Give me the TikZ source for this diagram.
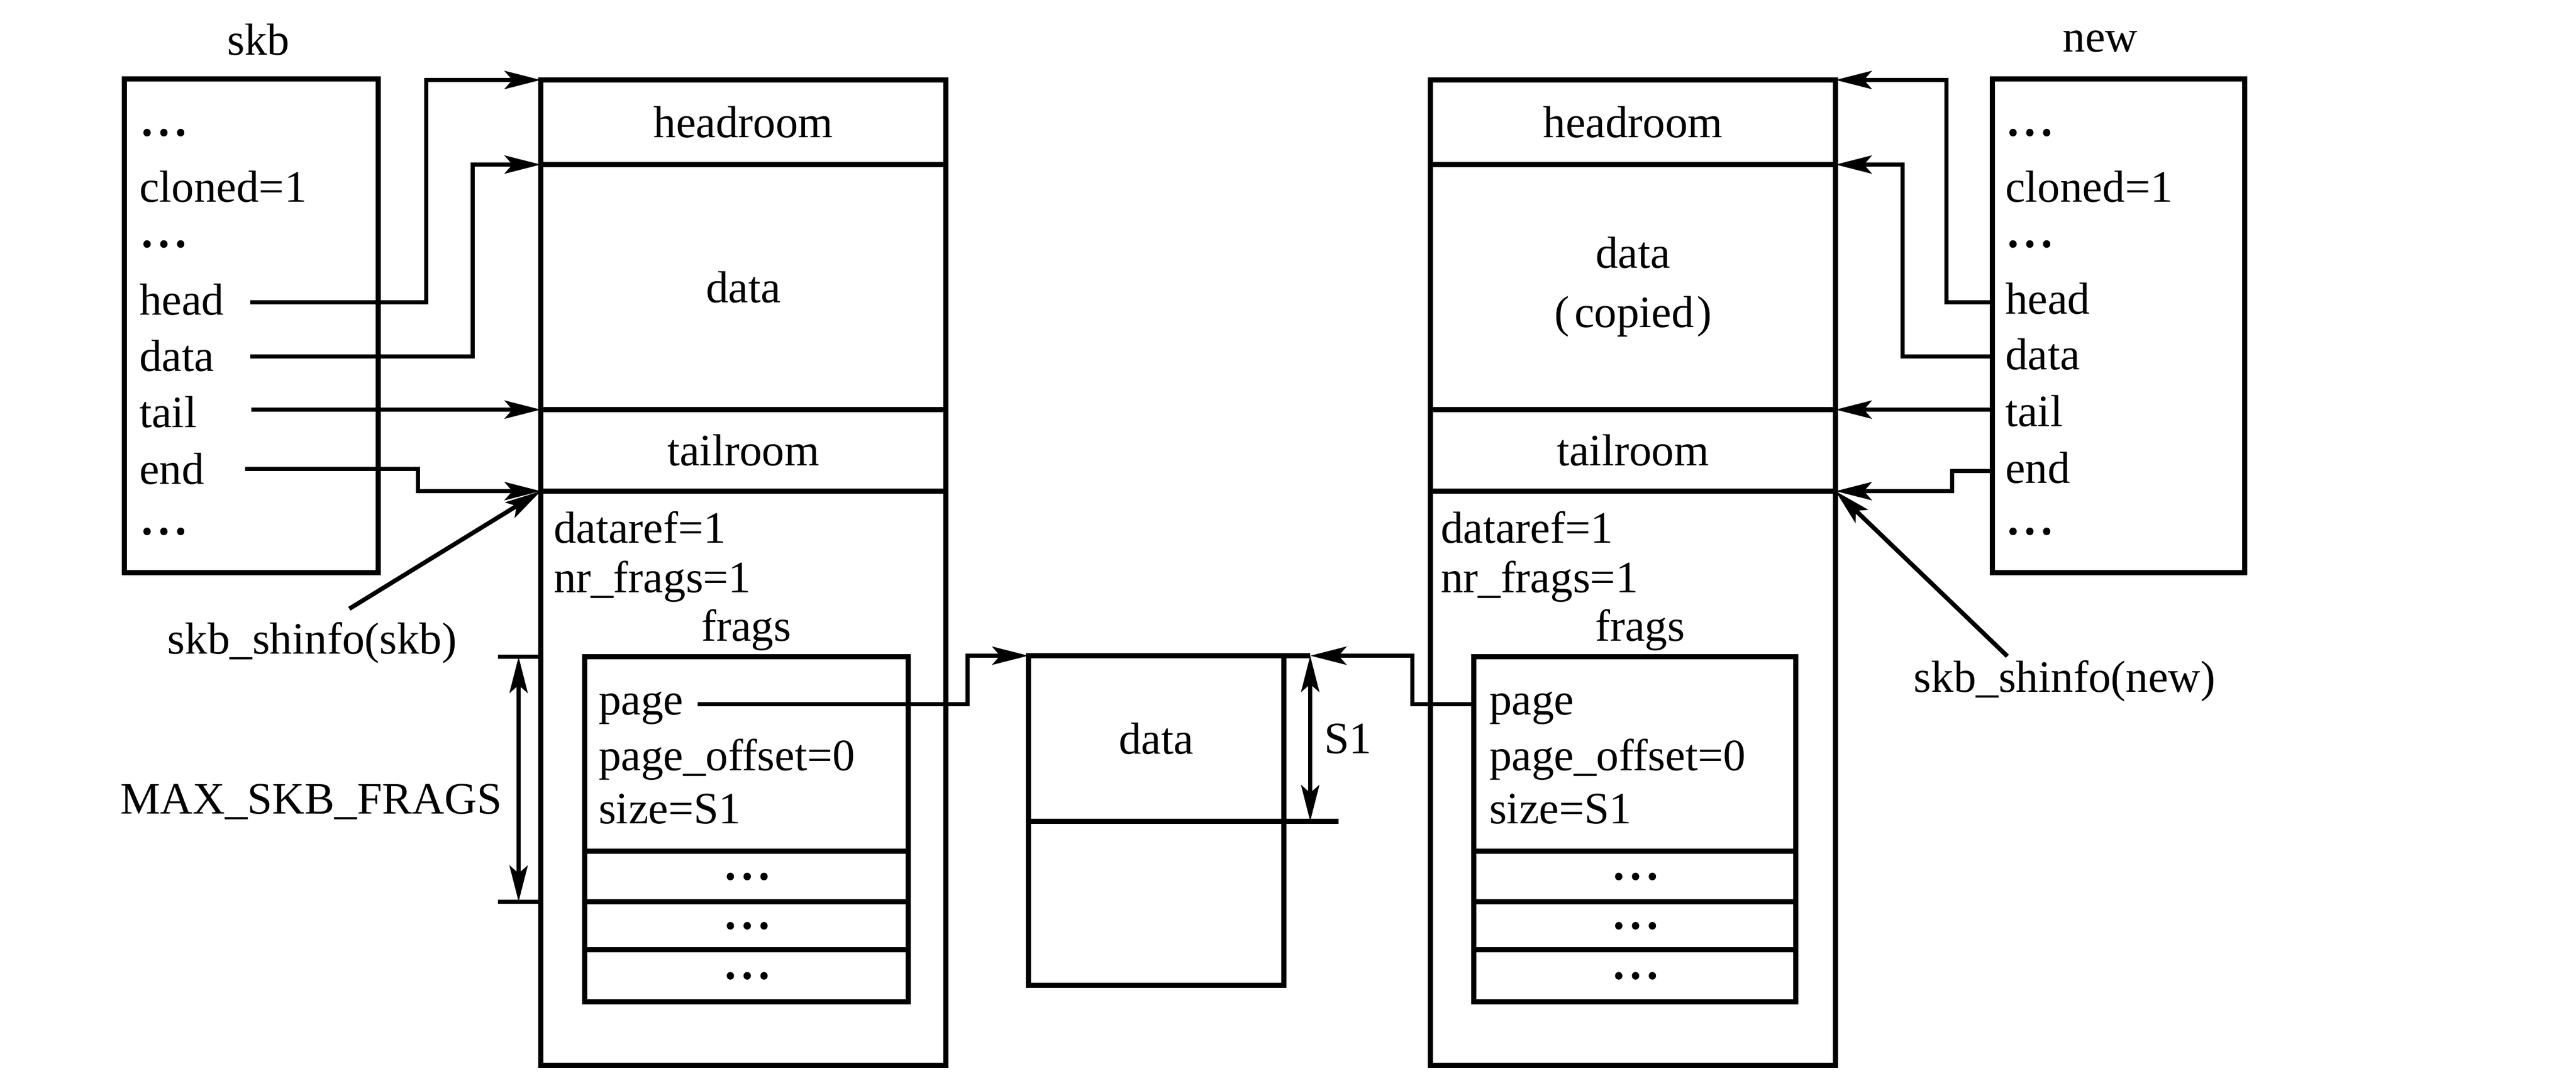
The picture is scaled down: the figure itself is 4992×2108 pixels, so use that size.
\documentclass[tikz,border=0pt]{standalone}
\usepackage{fontspec}
\setmainfont{Liberation Serif}
\newfontfamily\cjkb{Noto Sans CJK SC}[FakeBold=3]
\usetikzlibrary{arrows.meta}
\newcommand{\dd}{{\cjkb ⋯}}
\newcommand{\cellnode}[6]{\node[cellbox, minimum width={(#4-#2)*0.2pt}, minimum height={(#5-#3)*0.2pt}] (#1) at ({(#2+#4)/2},{(#3+#5)/2}) {#6};}
\begin{document}
\begin{tikzpicture}[x=0.2pt,y=-0.2pt,
  every node/.style={font=\fontsize{17.4}{21}\selectfont, inner sep=0pt, outer sep=0pt},
  cellbox/.style={draw, line width=2pt, rectangle},
  conn/.style={line width=1.7pt, -{Stealth[length=14pt,width=7pt,inset=3pt]}},
  dim/.style={line width=1.7pt, {Stealth[length=14pt,width=7pt,inset=3pt]}-{Stealth[length=14pt,width=7pt,inset=3pt]}},
  tick/.style={line width=1.7pt},
  boxline/.style={line width=2pt},
  lbl/.style={anchor=base west},
  ctr/.style={anchor=base}
]
\useasboundingbox (0,0) rectangle (4992,2108);

% ---------- skb structure ----------
\node[ctr] (skbT) at (501,106) {skb};
\cellnode{skb}{241}{153}{733}{1110}{}
\node[lbl] (s1) at (270,262) {\dd};
\node[lbl] (s2) at (270,391) {cloned=1};
\node[lbl] (s3) at (270,478) {\dd};
\node[lbl] (s4) at (270,610) {head};
\node[lbl] (s5) at (270,719) {data};
\node[lbl] (s6) at (270,828) {tail};
\node[lbl] (s7) at (270,938) {end};
\node[lbl] (s8) at (270,1035) {\dd};

% ---------- new structure ----------
\node[ctr] (newT) at (4070,100) {new};
\cellnode{new}{3861}{153}{4350}{1110}{}
\node[lbl] (n1) at (3886,262) {\dd};
\node[lbl] (n2) at (3886,391) {cloned=1};
\node[lbl] (n3) at (3886,478) {\dd};
\node[lbl] (n4) at (3886,608) {head};
\node[lbl] (n5) at (3886,716) {data};
\node[lbl] (n6) at (3886,826) {tail};
\node[lbl] (n7) at (3886,936) {end};
\node[lbl] (n8) at (3886,1035) {\dd};

% ---------- left buffer ----------
\cellnode{hrL}{1048}{155}{1833}{319}{headroom}
\cellnode{daL}{1048}{319}{1833}{794}{data}
\cellnode{trL}{1048}{794}{1833}{952}{tailroom}
\cellnode{shL}{1048}{952}{1833}{2065}{}
\node[lbl] (drL) at (1073,1052) {dataref=1};
\node[lbl] (nfL) at (1073,1148) {nr\_frags=1};
\node[ctr] (fgL) at (1446,1242) {frags};
\cellnode{fL0}{1133}{1273}{1760}{1650}{}
\cellnode{fL1}{1133}{1650}{1760}{1748}{\dd}
\cellnode{fL2}{1133}{1748}{1760}{1841}{\dd}
\cellnode{fL3}{1133}{1841}{1760}{1942}{\dd}
\node[lbl] (pgL) at (1160,1385) {page};
\node[lbl] (poL) at (1160,1493) {page\_offset=0};
\node[lbl] (szL) at (1160,1596) {size=S1};

% ---------- right buffer ----------
\cellnode{hrR}{2772}{155}{3557}{319}{headroom}
\node[cellbox, minimum width={(3557-2772)*0.2pt}, minimum height={(794-319)*0.2pt}, align=center] (daR) at ({(2772+3557)/2},{(319+794)/2}) {data\\[2pt]({\kern2pt}copied{\kern1pt})};
\cellnode{trR}{2772}{794}{3557}{952}{tailroom}
\cellnode{shR}{2772}{952}{3557}{2065}{}
\node[lbl] (drR) at (2792,1052) {dataref=1};
\node[lbl] (nfR) at (2792,1148) {nr\_frags=1};
\node[ctr] (fgR) at (3178,1242) {frags};
\cellnode{fR0}{2856}{1273}{3480}{1650}{}
\cellnode{fR1}{2856}{1650}{3480}{1748}{\dd}
\cellnode{fR2}{2856}{1748}{3480}{1841}{\dd}
\cellnode{fR3}{2856}{1841}{3480}{1942}{\dd}
\node[lbl] (pgR) at (2886,1385) {page};
\node[lbl] (poR) at (2886,1493) {page\_offset=0};
\node[lbl] (szR) at (2886,1596) {size=S1};

% ---------- shared data page ----------
\cellnode{dbT}{1993}{1271}{2488}{1592}{data}
\cellnode{dbB}{1993}{1592}{2488}{1910}{}
\coordinate (s1top) at (2539,1271);
\coordinate (s1bot) at (2539,1592);
\draw[boxline] (dbT.north east) -- (s1top);
\draw[boxline] (dbT.south east) -- ++(106,0);
\draw[dim] (s1top) -- (s1bot);
\node[ctr] (s1lbl) at (2612,1460) {S1};

% ---------- MAX_SKB_FRAGS ----------
\coordinate (mxT) at (1005,1273);
\coordinate (mxB) at (1005,1748);
\draw[tick] (965,1273) -- (shL.west |- fL0.north);
\draw[tick] (965,1748) -- (shL.west |- fL1.south);
\draw[dim] (mxT) -- (mxB);
\node[ctr] (maxT) at (603,1577) {MAX\_SKB\_FRAGS};

% ---------- labels skb_shinfo ----------
\node[ctr] (shiLT) at (605,1267) {skb\_shinfo(skb)};
\node[ctr] (shiRT) at (4001,1341) {skb\_shinfo(new)};
\coordinate (shiL) at (677,1180);
\coordinate (shiR) at (3890,1272);
\draw[conn] (shiL) -- (shL.north west);
\draw[conn] (shiR) -- (shR.north east);

% ---------- skb pointers ----------
\coordinate (lh) at (485,586);
\coordinate (ld) at (485,691);
\coordinate (lt) at (487,794);
\coordinate (le) at (475,909);
\draw[conn] (lh) -- ++(341,0) |- (hrL.north west);
\draw[conn] (ld) -- ++(431,0) |- (daL.north west);
\draw[conn] (lt) -- (trL.north west);
\draw[conn] (le) -- ++(335,0) |- (shL.north west);

% ---------- new pointers ----------
\coordinate (rh) at (3861,586);
\coordinate (rd) at (3861,691);
\coordinate (rt) at (3861,794);
\coordinate (re) at (3861,913);
\draw[conn] (rh) -- ++(-89,0) |- (hrR.north east);
\draw[conn] (rd) -- ++(-174,0) |- (daR.north east);
\draw[conn] (rt) -- (trR.north east);
\draw[conn] (re) -- ++(-78,0) |- (shR.north east);

% ---------- page pointers ----------
\coordinate (pLs) at (1352,1365);
\coordinate (pRs) at (2856,1365);
\draw[conn] (pLs) -- ++(523,0) |- (dbT.north west);
\draw[conn] (pRs) -- ++(-119,0) |- (s1top);
\end{tikzpicture}
\end{document}
